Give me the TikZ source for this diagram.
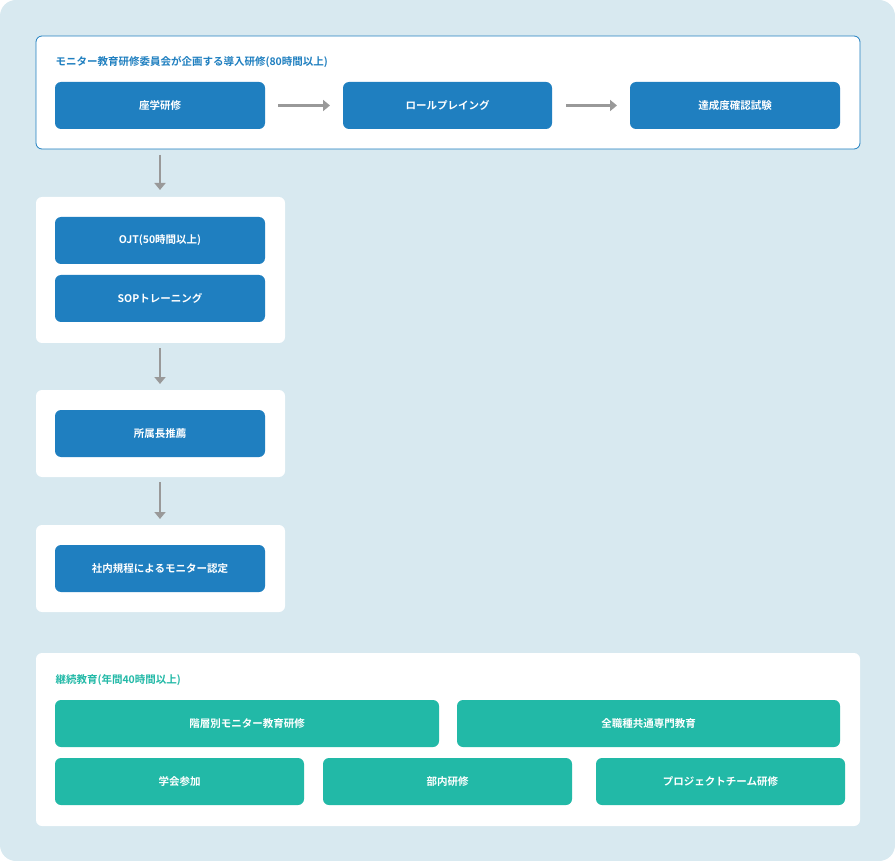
\documentclass[tikz,border=0pt]{standalone}
\usepackage{fontspec}
\setmainfont{Noto Sans CJK JP}[BoldFont={Noto Sans CJK JP Bold}]
\usetikzlibrary{arrows.meta}
\definecolor{bg}{HTML}{D8E9F0}
\definecolor{bl}{HTML}{1F7FC0}
\definecolor{tl}{HTML}{22B9A7}
\definecolor{ar}{HTML}{999999}
\begin{document}
\begin{tikzpicture}[x=1pt,y=-1pt,
 panel/.style={fill=white,rounded corners=6pt},
 btn/.style={rounded corners=6pt,text=white,font=\bfseries\fontsize{10.5}{12}\selectfont},
 arr/.style={draw=ar,line width=2.5pt,-{Triangle[length=7pt,width=11pt]}}]
\fill[bg,rounded corners=16pt] (0,0) rectangle (895,861);
\useasboundingbox (0,0) rectangle (895,861);
\draw[panel,draw=bl,line width=0.8pt] (36,36) rectangle (860,149);
\node[anchor=west,text=bl,font=\bfseries\fontsize{10.5}{12}\selectfont] (t1) at (52,62) {モニター教育研修委員会が企画する導入研修(80時間以上)};
\fill[bl,rounded corners=6pt] (55,82) rectangle (265,129) coordinate (a2);
\node[btn] (a) at (160,105.5) {座学研修};
\fill[bl,rounded corners=6pt] (343,82) rectangle (552,129);
\node[btn] (b) at (447.5,105.5) {ロールプレイング};
\fill[bl,rounded corners=6pt] (630,82) rectangle (840,129);
\node[btn] (c) at (735,105.5) {達成度確認試験};
\coordinate (a1) at (278,105.5); \coordinate (a1e) at (330,105.5);
\coordinate (b1) at (566,105.5); \coordinate (b1e) at (617,105.5);
\draw[arr] (a1) -- (a1e);
\draw[arr] (b1) -- (b1e);
\fill[panel] (36,197) rectangle (285,343);
\fill[bl,rounded corners=6pt] (55,217) rectangle (265,264);
\node[btn] (d) at (160,240.5) {OJT(50時間以上)};
\fill[bl,rounded corners=6pt] (55,275) rectangle (265,322);
\node[btn] (e) at (160,298.5) {SOPトレーニング};
\fill[panel] (36,390) rectangle (285,477);
\fill[bl,rounded corners=6pt] (55,410) rectangle (265,457);
\node[btn] (f) at (160,433.5) {所属長推薦};
\fill[panel] (36,525) rectangle (285,612);
\fill[bl,rounded corners=6pt] (55,545) rectangle (265,592);
\node[btn] (g) at (160,568.5) {社内規程によるモニター認定};
\coordinate (p1) at (160,155); \coordinate (p1e) at (160,190);
\coordinate (p2) at (160,348); \coordinate (p2e) at (160,384);
\coordinate (p3) at (160,482); \coordinate (p3e) at (160,519);
\draw[arr] (p1) -- (p1e);
\draw[arr] (p2) -- (p2e);
\draw[arr] (p3) -- (p3e);
\fill[panel] (36,653) rectangle (860,826);
\node[anchor=west,text=tl,font=\bfseries\fontsize{10.5}{12}\selectfont] (t2) at (52,680) {継続教育(年間40時間以上)};
\fill[tl,rounded corners=6pt] (55,700) rectangle (439,747);
\node[btn] (h) at (247,723.5) {階層別モニター教育研修};
\fill[tl,rounded corners=6pt] (457,700) rectangle (840,747);
\node[btn] (i) at (648.5,723.5) {全職種共通専門教育};
\fill[tl,rounded corners=6pt] (55,758) rectangle (304,805);
\node[btn] (j) at (179.5,781.5) {学会参加};
\fill[tl,rounded corners=6pt] (323,758) rectangle (572,805);
\node[btn] (k) at (447.5,781.5) {部内研修};
\fill[tl,rounded corners=6pt] (596,758) rectangle (845,805);
\node[btn] (l) at (720.5,781.5) {プロジェクトチーム研修};
\end{tikzpicture}
\end{document}
